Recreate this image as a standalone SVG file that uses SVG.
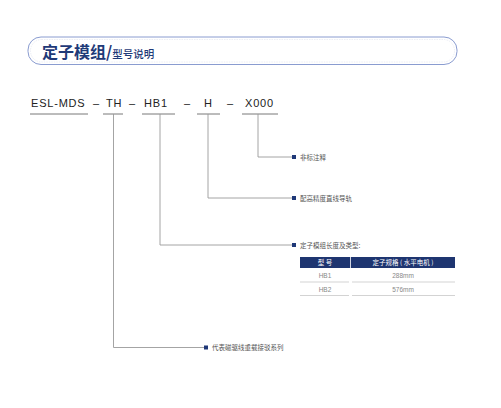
<svg xmlns="http://www.w3.org/2000/svg" width="501" height="408" viewBox="0 0 501 408">
<style>
.code{font-family:"Liberation Sans",Arial,sans-serif;font-size:11px;fill:#222;letter-spacing:0.8px}
.ul{stroke:#555;stroke-width:0.8}
.conn{fill:none;stroke:#9a9a9a;stroke-width:0.9}
.lbl{font-family:"Noto Sans CJK SC","Liberation Sans",sans-serif;font-size:6.5px;fill:#555}
.mk{fill:#1f3878}
.cell{font-family:"Liberation Sans","Noto Sans CJK SC",sans-serif;font-size:6.5px;fill:#888;text-anchor:middle}
.hd{font-family:"Noto Sans CJK SC","Liberation Sans",sans-serif;font-size:6.5px;fill:#fff;text-anchor:middle}
.rl{stroke:#c8c8c8;stroke-width:0.8}
</style>
<rect width="501" height="408" fill="#fff"/>
<g id="title">
<rect x="28" y="37" width="429" height="27.5" rx="13" ry="13" fill="#fff" stroke="#8a9cd0" stroke-width="1"/>
<rect x="30.5" y="39.5" width="424" height="22.5" rx="11" ry="11" fill="none" stroke="#dfe3ee" stroke-width="0.6" stroke-dasharray="1.5 1"/>
<text x="42" y="58" font-family="Noto Sans CJK SC,sans-serif" font-weight="bold" fill="#1f3a78"><tspan font-size="16">定子模组/</tspan><tspan font-size="10.5" font-weight="500">型号说明</tspan></text>
</g>
<g id="code">
<text class="code" x="31" y="107">ESL-MDS</text>
<text class="code" x="93" y="107">–</text>
<text class="code" x="106" y="107">TH</text>
<text class="code" x="129" y="107">–</text>
<text class="code" x="144" y="107">HB1</text>
<text class="code" x="184" y="107">–</text>
<text class="code" x="204" y="107">H</text>
<text class="code" x="227" y="107">–</text>
<text class="code" x="245" y="107">X000</text>
<line class="ul" x1="30" y1="114" x2="88" y2="114"/>
<line class="ul" x1="103" y1="114" x2="123" y2="114"/>
<line class="ul" x1="142" y1="114" x2="175" y2="114"/>
<line class="ul" x1="197" y1="114" x2="220" y2="114"/>
<line class="ul" x1="242" y1="114" x2="278" y2="114"/>
</g>
<g id="connectors">
<polyline class="conn" points="258,114 258,157 293,157"/>
<polyline class="conn" points="208,114 208,198 293,198"/>
<polyline class="conn" points="160,114 160,245 293,245"/>
<polyline class="conn" points="113.5,114 113.5,347.5 204,347.5"/>
</g>
<g id="n-x000">
<rect class="mk" x="292" y="155" width="4" height="4"/>
<text class="lbl" x="300" y="159.5">非标注释</text>
</g>
<g id="n-h">
<rect class="mk" x="292" y="196" width="4" height="4"/>
<text class="lbl" x="300" y="200.5">配高精度直线导轨</text>
</g>
<g id="n-hb1">
<rect class="mk" x="292" y="243" width="4" height="4"/>
<text class="lbl" x="300" y="247.5">定子模组长度及类型:</text>
<rect x="300" y="257" width="155" height="11" fill="#1e3570"/>
<line x1="350.5" y1="257" x2="350.5" y2="268" stroke="#fff" stroke-width="0.8"/>
<text class="hd" x="325" y="264.8">型 号</text>
<text class="hd" x="403" y="264.8">定子规格 ( 水平电机 )</text>
<text class="cell" x="325" y="277.5">HB1</text>
<text class="cell" x="403" y="277.5">288mm</text>
<line class="rl" x1="300" y1="282" x2="349" y2="282"/>
<line class="rl" x1="352" y1="282" x2="455" y2="282"/>
<text class="cell" x="325" y="291.5">HB2</text>
<text class="cell" x="403" y="291.5">576mm</text>
<line class="rl" x1="300" y1="295.5" x2="349" y2="295.5"/>
<line class="rl" x1="352" y1="295.5" x2="455" y2="295.5"/>
</g>
<g id="n-th">
<rect class="mk" x="204" y="345.5" width="4" height="4"/>
<text class="lbl" x="212" y="350">代表磁驱线重载接驳系列</text>
</g>
</svg>
